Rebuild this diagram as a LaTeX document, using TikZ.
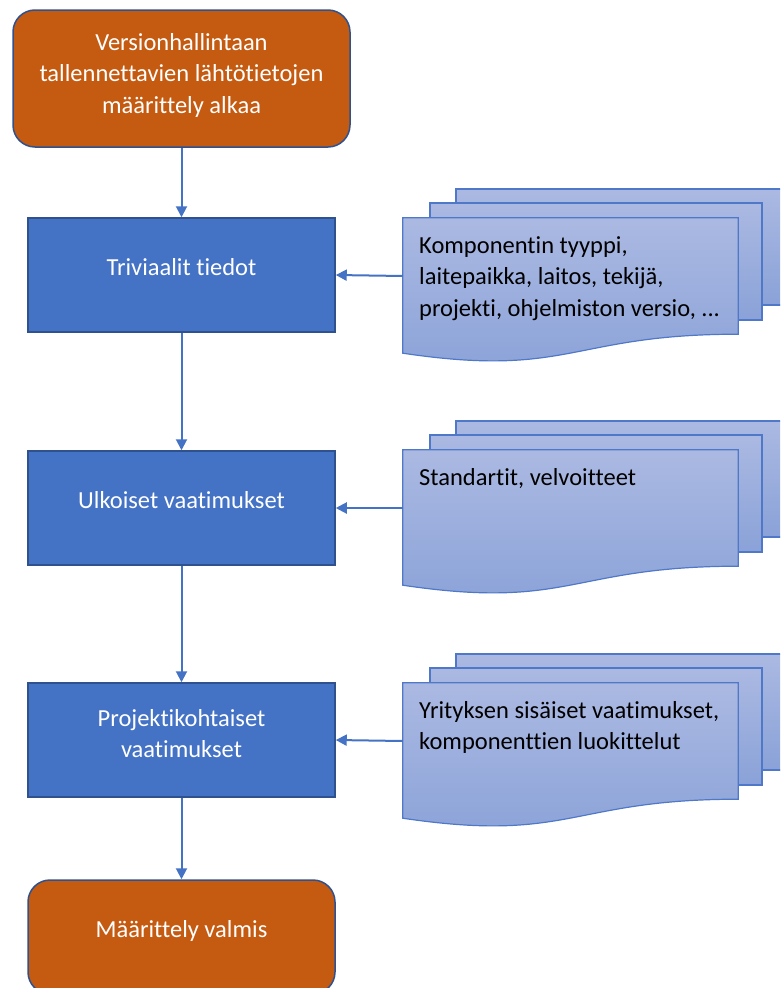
\documentclass[tikz,border=0pt]{standalone}
\usepackage{fontspec}
\setmainfont{Carlito}[Ligatures=NoCommon]
\usetikzlibrary{arrows.meta,calc}
\definecolor{startend}{HTML}{C55A11}
\definecolor{stepfill}{HTML}{4472C4}
\definecolor{stepline}{HTML}{2F528F}
\definecolor{doctop}{HTML}{ABB9E2}
\definecolor{docbot}{HTML}{8AA2D8}
\definecolor{docline}{HTML}{5078C8}
\begin{document}
\begin{tikzpicture}[x=1pt,y=-1pt,
  txt/.style={font=\fontsize{24.5}{31.5}\selectfont},
  % text height/depth keep the baselines centred in each box
  oneline/.style={text height=12pt, text depth=12pt},
  twolines/.style={text height=44pt, text depth=8.5pt},
  threelines/.style={text height=77pt, text depth=8pt},
  terminal/.style={txt, draw=stepline, line width=1.5pt, fill=startend, text=white,
    rounded corners=22pt, align=center, inner sep=0},
  process/.style={txt, draw=stepline, line width=1.5pt, fill=stepfill, text=white,
    align=center, minimum width=307pt, minimum height=114pt, inner sep=0},
  docarea/.style={minimum width=335pt, minimum height=116pt, inner sep=0},
  sheet/.style={draw=docline, line width=1.2pt, top color=doctop, bottom color=docbot},
  doctext/.style={txt, align=left, anchor=north west, inner sep=0, text=black},
  flow/.style={draw=stepfill, line width=2pt, -{Triangle[length=11pt,width=11pt]}}
]
\clip (0,0) rectangle (780,988);

% process chain
\node[terminal, threelines, minimum width=337pt, minimum height=137pt] (start) at (181.5,78.5)
  {Versionhallintaan\\tallennettavien lähtötietojen\\määrittely alkaa};
\node[process, oneline] (triv) at (181.5,275) {Triviaalit tiedot};
\node[process, oneline] (ulk) at (181.5,508) {Ulkoiset vaatimukset};
\node[process, twolines] (proj) at (181.5,740) {Projektikohtaiset\\vaatimukset};
\node[terminal, oneline, minimum width=307pt, minimum height=114pt] (done) at (181.5,937)
  {Määrittely valmis};

\draw[flow] (start.south) -- (triv.north);
\draw[flow] (triv.south) -- (ulk.north);
\draw[flow] (ulk.south) -- (proj.north);
\draw[flow] (proj.south) -- (done.north);

% stacked document shapes
\foreach \T/\nm in {218/doca, 450/docb, 683/docc}{
  \path[sheet] (456,\T-29) rectangle (789,\T+87);
  \path[sheet] (430,\T-15) rectangle (762,\T+102);
  \node[docarea] (\nm) at (570.5,\T+58) {};
  \path[sheet] (\nm.north west) -- (\nm.north east) -- (\nm.south east)
    .. controls (\nm.south) and ($(\nm.south)+(0,44)$) .. ($(\nm.south west)+(0,19)$)
    -- cycle;
}
\node[doctext] (ta) at (419,236)
  {Komponentin tyyppi,\\laitepaikka, laitos, tekijä,\\projekti, ohjelmiston versio, ...};
\node[doctext] (tb) at (419,468) {Standartit, velvoitteet};
\node[doctext] (tc) at (419,701)
  {Yrityksen sisäiset vaatimukset,\\komponenttien luokittelut};

\draw[flow] (doca.west) -- (triv.east);
\draw[flow] (docb.west) -- (ulk.east);
\draw[flow] (docc.west) -- (proj.east);
\end{tikzpicture}
\end{document}
